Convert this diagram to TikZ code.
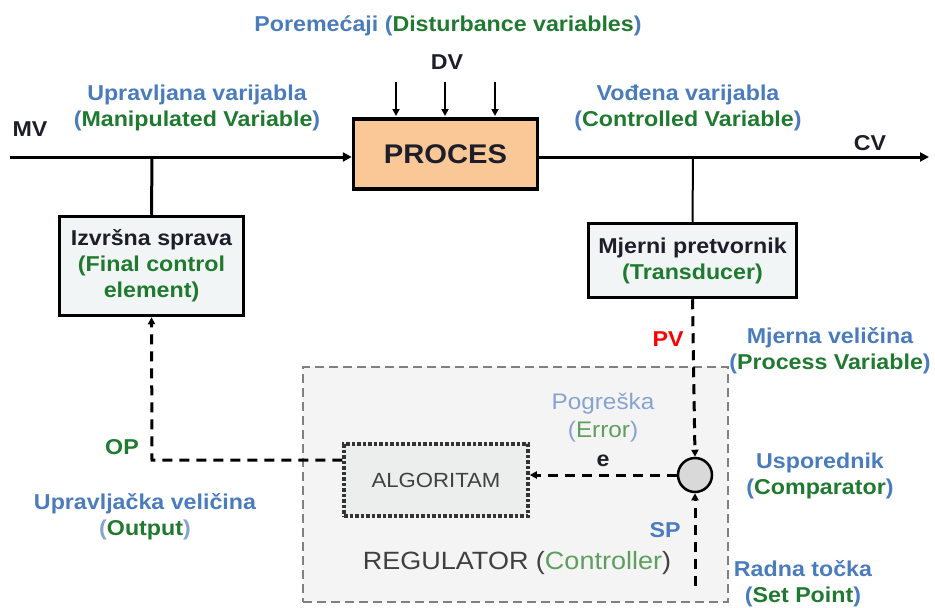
\documentclass[tikz,border=0pt]{standalone}
\usepackage{fontspec}
\setmainfont{Liberation Sans}[FakeStretch=1.08]
\usetikzlibrary{arrows.meta}
\definecolor{lblue}{HTML}{4A7CBD}
\definecolor{lgreen}{HTML}{1F7A30}
\definecolor{pblue}{HTML}{86A4CF}
\definecolor{pgreen}{HTML}{5E9E5E}
\definecolor{procfill}{HTML}{FAC896}
\definecolor{boxfill}{HTML}{F1F5F5}
\definecolor{regfill}{HTML}{F4F4F4}
\definecolor{algfill}{HTML}{ECEEEE}
\definecolor{txtdark}{HTML}{1E1E2A}
\newcommand{\bl}[1]{\textcolor{lblue}{#1}}
\newcommand{\gr}[1]{\textcolor{lgreen}{#1}}

\begin{document}
\begin{tikzpicture}[x=1pt,y=-1pt]
\tikzstyle{label text} = [font=\fontsize{21.5}{26}\selectfont\bfseries, align=center, inner sep=0pt]
\tikzstyle{process block} = [draw, line width=3.5pt, fill=procfill, minimum width=184pt, minimum height=70pt, font=\fontsize{27}{30}\selectfont\bfseries, text=txtdark]
\tikzstyle{device block} = [draw, line width=3.5pt, fill=boxfill, align=center, font=\fontsize{21.5}{26}\selectfont\bfseries, text=txtdark]
\tikzstyle{regulator box} = [draw=black!50, dash pattern=on 9pt off 5pt, line width=2pt, fill=regfill, minimum width=425pt, minimum height=235pt]
\tikzstyle{algorithm block} = [draw=black!80, dotted, line width=3.5pt, fill=algfill, minimum width=184pt, minimum height=72pt, font=\fontsize{20.5}{22}\selectfont, text=black!75]
\tikzstyle{comparator} = [draw, line width=2.5pt, circle, fill=black!15, minimum size=34pt, inner sep=0pt]
\tikzstyle{signal line} = [draw, line width=3pt, -{Triangle[length=9pt,width=9pt]}]
\tikzstyle{measure line} = [draw, line width=2pt]
\tikzstyle{dv line} = [draw, line width=2pt, -{Triangle[length=7pt,width=7pt]}]
\tikzstyle{dashed line} = [draw, line width=3pt, dash pattern=on 10pt off 7pt, -{Triangle[length=7pt,width=7pt]}]
\useasboundingbox (0,0) rectangle (935,608);
% blocks
\node[regulator box] (regulator) at (515.5,484.5) {};
\node[process block] (proces) at (445.5,154) {PROCES};
\node[device block, minimum width=184pt, minimum height=99pt] (izvrsna) at (151.5,266) {Izvršna sprava\\\gr{(Final control}\\\gr{element)}};
\node[device block, minimum width=208pt, minimum height=74pt] (mjerni) at (692.5,260.5) {Mjerni pretvornik\\\gr{(Transducer)}};
\node[algorithm block] (algoritam) at (436,480) {ALGORITAM};
\node[comparator] (usporednik) at (695,475) {};
% coordinates
\coordinate (mv) at (10,157);
\coordinate (cv) at (929,157);
\coordinate (mvtap) at (152,157);
\coordinate (cvtap) at (693,157);
\coordinate (op) at (152,460);
\coordinate (sp) at (695,586);
% main path
\path[signal line] (mv) -- (mv -| proces.west);
\path[signal line] (mv -| proces.east) -- (cv);
\path[draw, line width=3pt] (mvtap) -- (izvrsna.north);
\path[measure line] (cvtap) -- (mjerni.north);
\foreach \x in {396,445,495}
  \path[dv line] (\x,82) -- (\x,116);
% controller signals
\path[dashed line] (mjerni.south) -- (usporednik.north);
\path[dashed line] (sp) -- (usporednik.south);
\path[dashed line] (usporednik.west) -- (algoritam.east |- usporednik.west);
\path[dashed line] (algoritam.west |- op) -- (op) -- (izvrsna.south);
% labels
\node[label text] (poremecaji) at (448,26) {\bl{Poremećaji (}\gr{Disturbance variables}\bl{)}};
\node[label text, text=txtdark] (dv) at (447,62) {DV};
\node[label text, text=txtdark] (mvlabel) at (30,129) {MV};
\node[label text, text=txtdark] (cvlabel) at (870,143) {CV};
\node[label text] (upravljana) at (197,108) {\bl{Upravljana varijabla}\\\bl{(}\gr{Manipulated Variable}\bl{)}};
\node[label text] (vodjena) at (688,108) {\bl{Vođena varijabla}\\\bl{(}\gr{Controlled Variable}\bl{)}};
\node[label text, text=red] (pv) at (668,339) {PV};
\node[label text] (mjerna) at (830,351) {\bl{Mjerna veličina}\\\bl{(}\gr{Process Variable}\bl{)}};
\node[label text, text=lgreen] (oplabel) at (122,447) {OP};
\node[label text] (upravljacka) at (145,517) {\bl{Upravljačka veličina}\\\textcolor{pblue}{(}\gr{Output}\textcolor{pblue}{)}};
\node[label text, font=\fontsize{22.5}{28}\selectfont] (pogreska) at (603,418) {\textcolor{pblue}{Pogreška}\\\textcolor{pblue}{(}\textcolor{pgreen}{Error}\textcolor{pblue}{)}};
\node[label text, text=txtdark] (elabel) at (603,461) {e};
\node[label text] (usporednik text) at (820,476) {\bl{Usporednik}\\\bl{(}\gr{Comparator}\bl{)}};
\node[label text, text=lblue] (splabel) at (665,530) {SP};
\node[label text, font=\fontsize{25}{28}\selectfont, text=black!75] (regtext) at (517,563) {REGULATOR (\textcolor{pgreen}{Controller})};
\node[label text] (radna) at (803,584) {\bl{Radna točka}\\\bl{(}\gr{Set Point}\bl{)}};
\end{tikzpicture}
\end{document}
